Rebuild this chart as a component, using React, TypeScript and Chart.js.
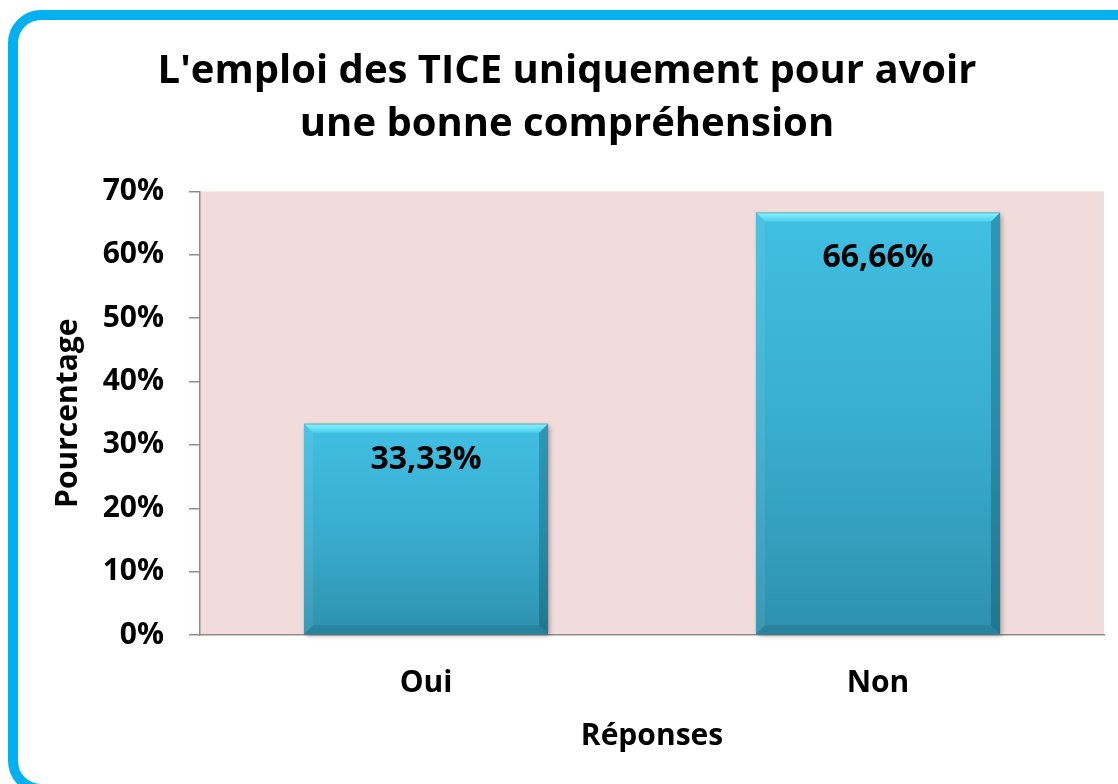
import React, { useEffect, useRef } from "react";
import { Chart, registerables } from "chart.js";

Chart.register(...registerables);

const categories = ["Oui", "Non"];
const values = [33.33, 66.66];
const yTicks = [0, 10, 20, 30, 40, 50, 60, 70];
const titleLines = ["L'emploi des TICE uniquement pour avoir", "une bonne compréhension"];
const xTitle = "Réponses";
const yTitle = "Pourcentage";
const labelOffsets = [36, 45];

const FONT = "'Open Sans', Lato, sans-serif";
const W = 1118;
const H = 784;

const fmt = (v: number) => v.toFixed(2).replace(".", ",") + "%";

const framePlugin = {
  id: "frame",
  beforeDraw(chart: any) {
    const { ctx, chartArea } = chart;
    ctx.save();
    ctx.fillStyle = "#ffffff";
    ctx.fillRect(0, 0, chart.width, chart.height);
    const lw = 10;
    const x = 8 + lw / 2;
    const y = 10 + lw / 2;
    const w = chart.width + 40;
    const h = 789 - y;
    const r = 28;
    ctx.strokeStyle = "#00b0f0";
    ctx.lineWidth = lw;
    ctx.beginPath();
    ctx.moveTo(x + r, y);
    ctx.lineTo(x + w - r, y);
    ctx.arcTo(x + w, y, x + w, y + r, r);
    ctx.lineTo(x + w, y + h - r);
    ctx.arcTo(x + w, y + h, x + w - r, y + h, r);
    ctx.lineTo(x + r, y + h);
    ctx.arcTo(x, y + h, x, y + h - r, r);
    ctx.lineTo(x, y + r);
    ctx.arcTo(x, y, x + r, y, r);
    ctx.closePath();
    ctx.stroke();
    ctx.fillStyle = "#f2dcdb";
    ctx.fillRect(chartArea.left, chartArea.top, chartArea.right - chartArea.left, chartArea.bottom - chartArea.top);
    ctx.restore();
  },
};

const barStylePlugin = {
  id: "barStyle",
  beforeDatasetsDraw(chart: any) {
    const { ctx } = chart;
    const meta = chart.getDatasetMeta(0);
    ctx.save();
    meta.data.forEach((el: any) => {
      const l = el.x - el.width / 2;
      const t = el.y;
      const h = el.base - el.y;
      ctx.shadowColor = "rgba(0,0,0,0.35)";
      ctx.shadowBlur = 5;
      ctx.shadowOffsetX = 2;
      ctx.shadowOffsetY = 2;
      ctx.fillStyle = "#2f8fab";
      ctx.fillRect(l, t, el.width, h);
    });
    ctx.restore();
  },
  afterDatasetsDraw(chart: any) {
    const { ctx } = chart;
    const meta = chart.getDatasetMeta(0);
    ctx.save();
    meta.data.forEach((el: any, i: number) => {
      const l = el.x - el.width / 2;
      const r = el.x + el.width / 2;
      const t = el.y;
      const bt = el.base;
      const b = 9;
      const gt = ctx.createLinearGradient(0, t, 0, t + b);
      gt.addColorStop(0, "#8af4ff");
      gt.addColorStop(1, "#4ccfec");
      ctx.fillStyle = gt;
      ctx.beginPath();
      ctx.moveTo(l, t);
      ctx.lineTo(r, t);
      ctx.lineTo(r - b, t + b);
      ctx.lineTo(l + b, t + b);
      ctx.closePath();
      ctx.fill();
      ctx.fillStyle = "rgba(255,255,255,0.07)";
      ctx.beginPath();
      ctx.moveTo(l, t);
      ctx.lineTo(l + b, t + b);
      ctx.lineTo(l + b, bt - b);
      ctx.lineTo(l, bt);
      ctx.closePath();
      ctx.fill();
      ctx.fillStyle = "rgba(0,50,70,0.28)";
      ctx.beginPath();
      ctx.moveTo(r, t);
      ctx.lineTo(r, bt);
      ctx.lineTo(r - b, bt - b);
      ctx.lineTo(r - b, t + b);
      ctx.closePath();
      ctx.fill();
      ctx.fillStyle = "rgba(0,40,60,0.14)";
      ctx.beginPath();
      ctx.moveTo(l, bt);
      ctx.lineTo(r, bt);
      ctx.lineTo(r - b, bt - b);
      ctx.lineTo(l + b, bt - b);
      ctx.closePath();
      ctx.fill();
      ctx.strokeStyle = "rgba(120,150,160,0.6)";
      ctx.lineWidth = 1;
      ctx.beginPath();
      ctx.moveTo(l, t + 0.5);
      ctx.lineTo(r, t + 0.5);
      ctx.stroke();
      ctx.fillStyle = "#000000";
      ctx.font = `bold 32px ${FONT}`;
      ctx.textAlign = "center";
      ctx.textBaseline = "middle";
      ctx.fillText(fmt(values[i]), el.x, t + labelOffsets[i]);
    });
    ctx.restore();
  },
};

export default function App() {
  const ref = useRef<HTMLCanvasElement | null>(null);

  useEffect(() => {
    if (!ref.current) return;
    const chart = new Chart(ref.current, {
      type: "bar",
      data: {
        labels: categories,
        datasets: [
          {
            data: values,
            borderWidth: 0,
            barPercentage: 0.54,
            categoryPercentage: 1,
            backgroundColor: (c: any) => {
              const ch = c.chart;
              const ys = ch.scales && ch.scales.y;
              if (!ys || !ch.chartArea || c.raw === undefined) return "#3bb6d8";
              const top = ys.getPixelForValue(c.raw);
              const bot = ys.getPixelForValue(0);
              if (!isFinite(top) || !isFinite(bot)) return "#3bb6d8";
              const g = ch.ctx.createLinearGradient(0, top, 0, bot);
              g.addColorStop(0, "#40bfe2");
              g.addColorStop(0.5, "#39adcf");
              g.addColorStop(1, "#2e91ae");
              return g;
            },
          },
        ],
      },
      options: {
        responsive: false,
        animation: false,
        layout: { padding: { left: 30, right: 14, top: 10, bottom: 10 } },
        plugins: {
          legend: { display: false },
          tooltip: { enabled: false },
          title: {
            display: true,
            text: titleLines,
            color: "#000000",
            font: { family: FONT, size: 40, weight: "bold", lineHeight: 1.33 },
            padding: { top: 35, bottom: 40 },
          },
        },
        scales: {
          x: {
            afterFit: (s: any) => {
              s.height = 139;
            },
            grid: { display: false, drawTicks: false },
            border: { display: true, color: "#8c8c8c", width: 1.5 },
            ticks: {
              color: "#000000",
              font: { family: FONT, size: 30, weight: "bold" },
              padding: 30,
            },
            title: {
              display: true,
              text: xTitle,
              color: "#000000",
              font: { family: FONT, size: 30, weight: "bold", lineHeight: 1.2 },
              padding: { top: 0, bottom: 20 },
            },
          },
          y: {
            min: 0,
            max: 70,
            afterFit: (s: any) => {
              s.width = 170;
            },
            afterBuildTicks: (s: any) => {
              s.ticks = yTicks.map((v) => ({ value: v }));
            },
            grid: {
              display: true,
              drawOnChartArea: false,
              drawTicks: true,
              tickLength: 11,
              color: "#8c8c8c",
              lineWidth: 1.5,
            },
            border: { display: true, color: "#8c8c8c", width: 1.5 },
            ticks: {
              color: "#000000",
              font: { family: FONT, size: 30, weight: "bold" },
              padding: 25,
              callback: (v: any) => v + "%",
            },
            title: {
              display: true,
              text: yTitle,
              color: "#000000",
              font: { family: FONT, size: 30, weight: "bold", lineHeight: 1.2 },
              padding: { top: 20, bottom: 0 },
            },
          },
        },
      },
      plugins: [framePlugin, barStylePlugin],
    });
    return () => chart.destroy();
  }, []);

  return (
    <div style={{ position: "fixed", left: 0, top: 0, width: W, height: H, background: "#fff" }}>
      <canvas ref={ref} width={W} height={H} style={{ display: "block", width: W, height: H }} />
    </div>
  );
}
